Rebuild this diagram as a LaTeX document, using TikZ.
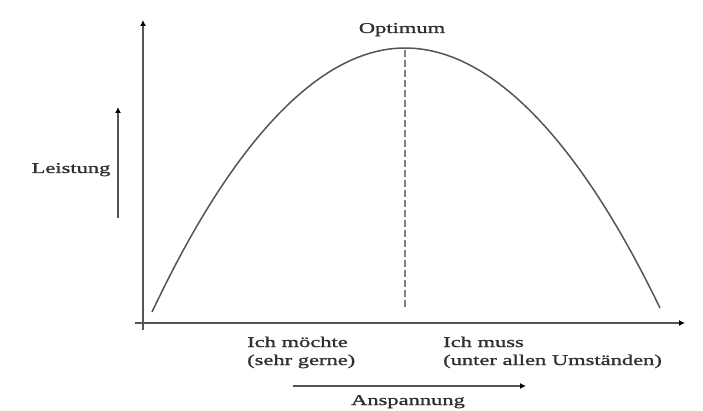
\documentclass[tikz,border=0pt]{standalone}
\usepackage{fontspec}
\setmainfont{Liberation Serif}[FakeStretch=1.5,FakeBold=1.2]
\usetikzlibrary{arrows.meta}
\definecolor{ink}{HTML}{303030}
\definecolor{linegray}{HTML}{555555}
\tikzset{
  axis/.style={draw=linegray, line width=1.8pt, -{Latex[length=6pt,width=6pt,color=black]}},
  curve/.style={draw=linegray, line width=1.5pt},
  optline/.style={draw=gray, line width=1.6pt, dash pattern=on 7pt off 3pt},
  lbl/.style={text=ink, inner sep=0pt, font=\fontsize{15}{18}\selectfont},
}
\begin{document}
\begin{tikzpicture}[x=1pt,y=-1pt]
\useasboundingbox[fill=white] (0,0) rectangle (703,411);
% axes
\coordinate (ybot) at (143,330);
\coordinate (ytop) at (143,20);
\coordinate (xleft) at (135,323);
\coordinate (xright) at (685,323);
\draw[axis] (ybot) -- (ytop);
\draw[axis] (xleft) -- (xright);
% curve
\coordinate (cs) at (152,312);
\coordinate (peak) at (405,48);
\coordinate (ce) at (660,308);
\draw[curve] (cs) parabola bend (peak) (ce);
% optimum line
\coordinate (otop) at (405,50);
\coordinate (obot) at (405,310);
\draw[optline] (otop) -- (obot);
\node[lbl, anchor=base] (opt) at (402,33) {Optimum};
% Leistung
\coordinate (lbot) at (118,218);
\coordinate (ltop) at (118,107);
\draw[axis, line width=1.5pt] (lbot) -- (ltop);
\node[lbl, anchor=base] (leist) at (71,173) {Leistung};
% bottom labels
\node[lbl, anchor=base west] (m1) at (247,347) {Ich möchte};
\node[lbl, anchor=base west] (m2) at (247,365) {(sehr gerne)};
\node[lbl, anchor=base west] (u1) at (443,347) {Ich muss};
\node[lbl, anchor=base west] (u2) at (443,365) {(unter allen Umständen)};
% Anspannung
\coordinate (aleft) at (293,386);
\coordinate (aright) at (526,386);
\draw[axis, line width=1.5pt] (aleft) -- (aright);
\node[lbl, anchor=base] (ansp) at (408,405) {Anspannung};
\end{tikzpicture}
\end{document}
